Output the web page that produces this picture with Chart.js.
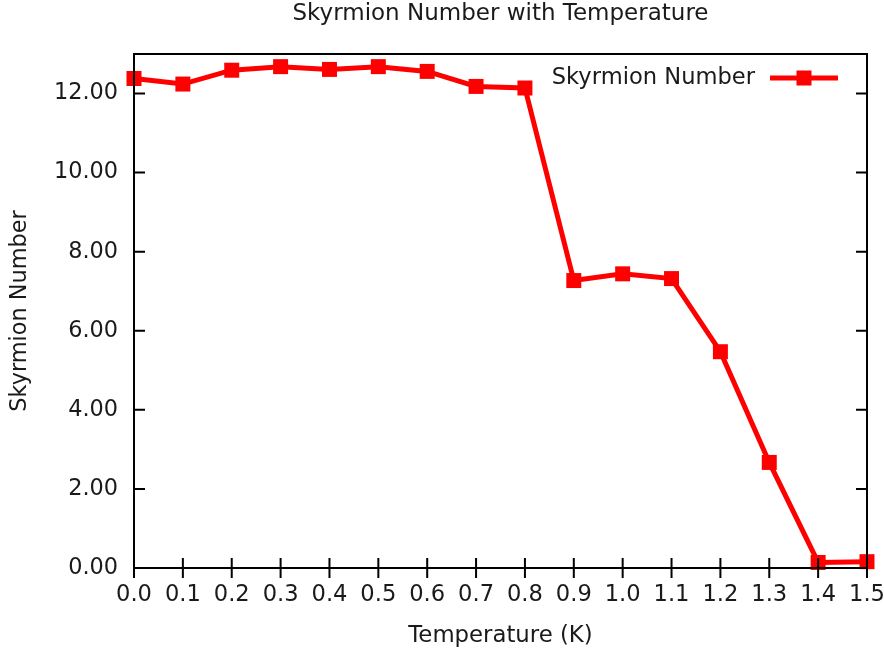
<!DOCTYPE html>
<html>
<head>
<meta charset="utf-8">
<script src="https://cdn.jsdelivr.net/npm/chart.js@4"></script>
<style>
  html, body { margin: 0; padding: 0; background: #fff; }
  #wrap { width: 884px; height: 654px; }
</style>
</head>
<body>
<div id="wrap"><canvas id="chart" width="884" height="654"></canvas></div>
<script>
// data
const temperatures = [0.0, 0.1, 0.2, 0.3, 0.4, 0.5, 0.6, 0.7, 0.8, 0.9, 1.0, 1.1, 1.2, 1.3, 1.4, 1.5];
const skyrmionNumber = [12.38, 12.24, 12.59, 12.68, 12.61, 12.68, 12.56, 12.18, 12.14, 7.27, 7.44, 7.32, 5.47, 2.67, 0.14, 0.16];
const xTicks = [0.0, 0.1, 0.2, 0.3, 0.4, 0.5, 0.6, 0.7, 0.8, 0.9, 1.0, 1.1, 1.2, 1.3, 1.4, 1.5];
const yTicks = [0, 2, 4, 6, 8, 10, 12];

const FONT = 'DejaVu Sans';
const INK = '#1a1a1a';

// gnuplot-like frame, inward ticks and in-plot legend
const framePlugin = {
  id: 'frame',
  afterDatasetsDraw(chart) {
    const { ctx, chartArea: a, scales } = chart;
    ctx.save();
    ctx.strokeStyle = '#000';
    ctx.lineWidth = 2;
    ctx.strokeRect(a.left, a.top, a.right - a.left, a.bottom - a.top);

    ctx.beginPath();
    xTicks.forEach(v => {
      const x = scales.x.getPixelForValue(v);
      ctx.moveTo(x, a.bottom - 10);
      ctx.lineTo(x, a.bottom + 10);
    });
    yTicks.forEach(v => {
      const y = scales.y.getPixelForValue(v);
      ctx.moveTo(a.left, y);
      ctx.lineTo(a.left + 11, y);
      ctx.moveTo(a.right, y);
      ctx.lineTo(a.right - 11, y);
    });
    ctx.stroke();

    // legend
    const ds = chart.data.datasets[0];
    const ly = a.top + 24;
    ctx.fillStyle = INK;
    ctx.font = '22.6px "' + FONT + '"';
    ctx.textAlign = 'right';
    ctx.textBaseline = 'middle';
    ctx.fillText(ds.label, a.right - 112, ly);
    ctx.strokeStyle = ds.borderColor;
    ctx.lineWidth = ds.borderWidth;
    ctx.beginPath();
    ctx.moveTo(a.right - 97, ly);
    ctx.lineTo(a.right - 29, ly);
    ctx.stroke();
    ctx.fillStyle = ds.pointBackgroundColor;
    ctx.fillRect(a.right - 70.5, ly - 7.5, 15, 15);
    ctx.restore();
  }
};

new Chart(document.getElementById('chart'), {
  type: 'line',
  data: {
    datasets: [{
      label: 'Skyrmion Number',
      data: temperatures.map((t, i) => ({ x: t, y: skyrmionNumber[i] })),
      borderColor: '#ff0000',
      backgroundColor: '#ff0000',
      pointBackgroundColor: '#ff0000',
      pointBorderWidth: 0,
      borderWidth: 5,
      pointStyle: 'rect',
      pointRadius: 10.6,
      tension: 0,
      clip: false
    }]
  },
  options: {
    responsive: false,
    animation: false,
    layout: { padding: 0 },
    plugins: {
      legend: { display: false },
      tooltip: { enabled: false },
      title: {
        display: true,
        fullSize: false,
        text: 'Skyrmion Number with Temperature',
        color: INK,
        font: { family: FONT, size: 23, weight: 'normal' },
        padding: { top: 0, bottom: 26.4 }
      }
    },
    scales: {
      x: {
        type: 'linear',
        min: 0,
        max: 1.5,
        grid: { display: false, drawTicks: false },
        border: { display: false },
        afterBuildTicks: s => { s.ticks = xTicks.map(v => ({ value: v })); },
        afterFit: s => { s.height = 86; s.paddingLeft = 0; s.paddingRight = 17; },
        ticks: {
          color: INK,
          padding: 14,
          maxRotation: 0,
          font: { family: FONT, size: 22.6 },
          callback: v => v.toFixed(1)
        },
        title: {
          display: true,
          text: 'Temperature (K)',
          color: INK,
          font: { family: FONT, size: 22.8 },
          padding: { top: 0, bottom: 4 }
        }
      },
      y: {
        min: 0,
        max: 13,
        grid: { display: false, drawTicks: false },
        border: { display: false },
        afterBuildTicks: s => { s.ticks = yTicks.map(v => ({ value: v })); },
        afterFit: s => { s.width = 134; },
        ticks: {
          color: INK,
          padding: 16,
          font: { family: FONT, size: 22.4 },
          callback: v => v.toFixed(2)
        },
        title: {
          display: true,
          text: 'Skyrmion Number',
          color: INK,
          font: { family: FONT, size: 22.4 },
          padding: { top: 7, bottom: 0 }
        }
      }
    }
  },
  plugins: [framePlugin]
});
</script>
</body>
</html>
